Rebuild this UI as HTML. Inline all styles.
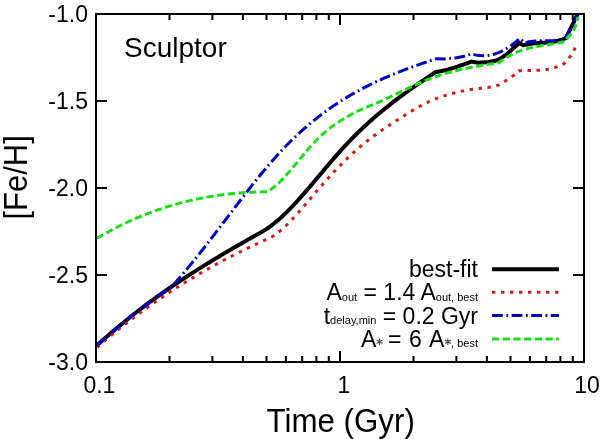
<!DOCTYPE html>
<html><head><meta charset="utf-8"><style>
html,body{margin:0;padding:0;background:#fff;}
body{width:600px;height:439px;overflow:hidden;position:relative;font-family:"Liberation Sans",sans-serif;}
svg{position:absolute;left:0;top:0;will-change:transform;}
text{font-family:"Liberation Sans",sans-serif;fill:#000;}
</style></head><body>
<svg width="600" height="439" viewBox="0 0 600 439">
<defs><clipPath id="c"><rect x="96" y="14" width="488" height="348"/></clipPath></defs>
<g clip-path="url(#c)" fill="none" stroke-linejoin="miter" stroke-miterlimit="6">
<path d="M97.00,345.40L98.99,343.60L100.98,341.81L102.96,340.04L104.95,338.28L106.94,336.54L108.93,334.81L110.92,333.09L112.90,331.39L114.89,329.70L116.88,328.03L118.87,326.37L120.86,324.72L122.84,323.08L124.83,321.46L126.82,319.85L128.81,318.26L130.80,316.67L132.78,315.10L134.77,313.54L136.76,311.99L138.75,310.46L140.73,308.93L142.72,307.42L144.71,305.92L146.70,304.43L148.69,302.95L150.67,301.48L152.66,300.02L154.65,298.58L156.64,297.14L158.63,295.71L160.61,294.30L162.60,292.89L164.59,291.50L166.58,290.11L168.57,288.73L170.55,287.36L172.54,286.00L174.53,284.65L176.52,283.31L178.51,281.98L180.49,280.66L182.48,279.34L184.47,278.03L186.46,276.74L188.45,275.44L190.43,274.16L192.42,272.88L194.41,271.62L196.40,270.35L198.39,269.10L200.37,267.85L202.36,266.61L204.35,265.38L206.34,264.15L208.33,262.93L210.31,261.72L212.30,260.51L214.29,259.31L216.28,258.11L218.27,256.92L220.25,255.73L222.24,254.55L224.23,253.38L226.22,252.20L228.20,251.04L230.19,249.88L232.18,248.72L234.17,247.57L236.16,246.42L238.14,245.28L240.13,244.14L242.12,243.00L244.11,241.87L246.10,240.74L248.08,239.61L250.07,238.49L252.06,237.36L254.05,236.25L256.04,235.13L258.02,234.02L260.01,232.91L262.00,231.80L264.00,230.62L265.99,229.36L267.99,228.02L269.98,226.60L271.98,225.11L273.97,223.55L275.97,221.92L277.96,220.23L279.96,218.47L281.95,216.66L283.95,214.79L285.94,212.86L287.94,210.89L289.94,208.87L291.93,206.80L293.93,204.70L295.92,202.55L297.92,200.37L299.91,198.16L301.91,195.92L303.90,193.65L305.90,191.35L307.89,189.04L309.89,186.71L311.89,184.36L313.88,182.00L315.88,179.64L317.87,177.26L319.87,174.89L321.86,172.51L323.86,170.14L325.85,167.77L327.85,165.41L329.84,163.06L331.84,160.72L333.83,158.40L335.83,156.11L337.83,153.83L339.82,151.58L341.82,149.36L343.81,147.18L345.81,145.02L347.80,142.90L349.80,140.81L351.79,138.76L353.79,136.73L355.78,134.74L357.78,132.77L359.77,130.83L361.77,128.93L363.77,127.05L365.76,125.19L367.76,123.36L369.75,121.56L371.75,119.79L373.74,118.03L375.74,116.30L377.73,114.60L379.73,112.91L381.72,111.25L383.72,109.61L385.71,107.99L387.71,106.39L389.71,104.81L391.70,103.24L393.70,101.70L395.69,100.17L397.69,98.65L399.68,97.16L401.68,95.67L403.67,94.21L405.67,92.75L407.66,91.31L409.66,89.88L411.66,88.46L413.65,87.05L415.65,85.66L417.64,84.27L419.64,82.89L421.63,81.52L423.63,80.15L425.62,78.80L427.62,77.45L429.61,76.10L431.61,74.76L433.60,73.43L435.60,72.10L437.59,71.78L439.59,71.41L441.58,71.01L443.58,70.56L445.57,70.09L447.57,69.58L449.56,69.04L451.56,68.48L453.55,67.88L455.54,67.26L457.54,66.62L459.53,65.95L461.53,65.26L463.52,64.56L465.52,63.84L467.51,63.11L469.51,62.36L471.50,61.60L477.80,62.80L489.20,62.00L495.00,60.70L496.87,60.13L498.74,59.34L500.61,58.35L502.48,57.20L504.35,55.90L506.22,54.48L508.08,52.95L509.95,51.35L511.82,49.70L513.69,48.01L515.56,46.32L517.43,44.64L519.30,43.00L522.90,45.20L526.90,44.60L528.86,44.18L530.81,43.84L532.76,43.56L534.72,43.34L536.67,43.15L538.63,43.00L540.59,42.87L542.54,42.75L544.50,42.63L546.45,42.49L548.40,42.33L550.36,42.13L552.31,41.89L554.27,41.59L556.23,41.23L558.18,40.78L560.13,40.25L562.09,39.61L564.04,38.87L566.00,38.00L572.40,24.80L575.50,18.40L578.30,13.00" stroke="#000" stroke-width="4"/>
<path d="M97.00,347.30L98.99,345.59L100.98,343.89L102.97,342.20L104.95,340.52L106.94,338.85L108.93,337.20L110.92,335.56L112.91,333.93L114.90,332.31L116.88,330.70L118.87,329.11L120.86,327.52L122.85,325.95L124.84,324.39L126.83,322.85L128.81,321.31L130.80,319.79L132.79,318.27L134.78,316.77L136.77,315.28L138.76,313.80L140.74,312.33L142.73,310.88L144.72,309.43L146.71,308.00L148.70,306.57L150.69,305.16L152.67,303.76L154.66,302.36L156.65,300.98L158.64,299.61L160.63,298.25L162.62,296.91L164.60,295.57L166.59,294.24L168.58,292.92L170.57,291.61L172.56,290.32L174.55,289.03L176.53,287.75L178.52,286.48L180.51,285.23L182.50,283.98L184.49,282.74L186.48,281.51L188.47,280.30L190.45,279.09L192.44,277.89L194.43,276.70L196.42,275.52L198.41,274.35L200.40,273.19L202.38,272.04L204.37,270.89L206.36,269.76L208.35,268.64L210.34,267.52L212.33,266.41L214.31,265.32L216.30,264.23L218.29,263.15L220.28,262.08L222.27,261.01L224.26,259.96L226.24,258.91L228.23,257.88L230.22,256.85L232.21,255.83L234.20,254.81L236.19,253.81L238.17,252.81L240.16,251.83L242.15,250.85L244.14,249.88L246.13,248.91L248.12,247.96L250.10,247.01L252.09,246.07L254.08,245.13L256.07,244.21L258.06,243.29L260.05,242.38L262.03,241.48L264.02,240.58L266.01,239.69L268.00,238.80L269.99,237.81L271.98,236.70L273.97,235.45L275.95,234.09L277.94,232.62L279.93,231.04L281.92,229.37L283.91,227.60L285.90,225.75L287.88,223.82L289.87,221.82L291.86,219.76L293.85,217.63L295.84,215.46L297.83,213.24L299.81,210.98L301.80,208.69L303.79,206.37L305.78,204.04L307.77,201.69L309.76,199.34L311.74,196.99L313.73,194.65L315.72,192.32L317.71,190.01L319.70,187.72L321.69,185.45L323.68,183.20L325.66,180.97L327.65,178.76L329.64,176.58L331.63,174.42L333.62,172.29L335.61,170.18L337.59,168.10L339.58,166.05L341.57,164.02L343.56,162.03L345.55,160.06L347.54,158.13L349.52,156.23L351.51,154.36L353.50,152.53L355.49,150.73L357.48,148.97L359.47,147.25L361.45,145.56L363.44,143.91L365.43,142.30L367.42,140.73L369.41,139.19L371.40,137.69L373.38,136.21L375.37,134.77L377.36,133.35L379.35,131.96L381.34,130.58L383.33,129.23L385.32,127.89L387.30,126.56L389.29,125.25L391.28,123.94L393.27,122.64L395.26,121.35L397.25,120.05L399.23,118.77L401.22,117.50L403.21,116.23L405.20,114.98L407.19,113.75L409.18,112.53L411.16,111.33L413.15,110.15L415.14,109.00L417.13,107.87L419.12,106.76L421.11,105.69L423.09,104.65L425.08,103.64L427.07,102.67L429.06,101.73L431.05,100.84L433.04,99.98L435.02,99.15L437.01,98.37L439.00,97.61L440.99,96.90L442.98,96.21L444.97,95.56L446.96,94.94L448.94,94.34L450.93,93.78L452.92,93.25L454.91,92.74L456.90,92.27L458.89,91.81L460.87,91.39L462.86,90.98L464.85,90.60L466.84,90.24L468.83,89.90L470.82,89.58L472.80,89.27L474.79,88.99L476.78,88.71L478.77,88.45L480.76,88.20L482.75,87.97L484.73,87.74L486.72,87.52L488.71,87.31L490.70,87.10L499.30,84.90L506.70,80.00L514.00,75.10L518.70,70.70L520.65,70.63L522.60,70.59L524.54,70.55L526.49,70.53L528.44,70.51L530.39,70.49L532.33,70.46L534.28,70.41L536.23,70.34L538.18,70.25L540.13,70.13L542.07,69.97L544.02,69.76L545.97,69.51L547.92,69.19L549.87,68.82L551.81,68.38L553.76,67.87L555.71,67.28L557.66,66.60L559.60,65.83L561.55,64.97L563.50,64.00L567.30,60.60L572.10,53.90L576.20,45.70L577.30,43.50" stroke="#d81818" stroke-width="3" stroke-dasharray="3.4 5.6"/>
<path d="M97.00,345.40L98.99,343.60L100.98,341.81L102.96,340.04L104.95,338.28L106.94,336.54L108.93,334.81L110.92,333.09L112.90,331.39L114.89,329.70L116.88,328.03L118.87,326.37L120.86,324.72L122.84,323.08L124.83,321.46L126.82,319.85L128.81,318.26L130.80,316.67L132.78,315.10L134.77,313.54L136.76,311.99L138.75,310.46L140.73,308.93L142.72,307.42L144.71,305.92L146.70,304.43L148.69,302.95L150.67,301.48L152.66,300.02L154.65,298.58L156.64,297.14L158.63,295.71L160.61,294.30L162.60,292.89L164.59,291.50L166.58,290.11L168.57,288.73L170.55,287.36L171.90,286.30L173.89,284.15L175.87,281.94L177.86,279.70L179.85,277.42L181.84,275.12L183.82,272.79L185.81,270.44L187.80,268.06L189.78,265.65L191.77,263.23L193.76,260.78L195.75,258.31L197.73,255.83L199.72,253.32L201.71,250.80L203.70,248.26L205.68,245.71L207.67,243.15L209.66,240.58L211.64,238.00L213.63,235.40L215.62,232.80L217.61,230.20L219.59,227.59L221.58,224.97L223.57,222.35L225.55,219.74L227.54,217.12L229.53,214.50L231.52,211.88L233.50,209.27L235.49,206.67L237.48,204.07L239.47,201.48L241.45,198.89L243.44,196.32L245.43,193.76L247.41,191.21L249.40,188.67L251.39,186.15L253.38,183.65L255.36,181.16L257.35,178.69L259.34,176.25L261.32,173.82L263.31,171.41L265.30,169.03L267.29,166.68L269.27,164.35L271.26,162.05L273.25,159.78L275.24,157.54L277.22,155.33L279.21,153.15L281.20,151.00L283.18,148.90L285.17,146.82L287.16,144.78L289.15,142.77L291.13,140.80L293.12,138.86L295.11,136.95L297.09,135.08L299.08,133.23L301.07,131.42L303.06,129.64L305.04,127.88L307.03,126.16L309.02,124.47L311.01,122.81L312.99,121.17L314.98,119.57L316.97,117.99L318.95,116.44L320.94,114.92L322.93,113.42L324.92,111.95L326.90,110.50L328.89,109.08L330.88,107.69L332.86,106.32L334.85,104.98L336.84,103.65L338.83,102.36L340.81,101.08L342.80,99.83L344.79,98.60L346.78,97.39L348.76,96.20L350.75,95.03L352.74,93.89L354.72,92.76L356.71,91.65L358.70,90.57L360.69,89.50L362.67,88.45L364.66,87.42L366.65,86.40L368.63,85.40L370.62,84.42L372.61,83.46L374.60,82.51L376.58,81.58L378.57,80.66L380.56,79.76L382.55,78.87L384.53,77.99L386.52,77.13L388.51,76.28L390.49,75.44L392.48,74.62L394.47,73.81L396.46,73.00L398.44,72.21L400.43,71.43L402.42,70.66L404.40,69.90L406.39,69.15L408.38,68.41L410.37,67.68L412.35,66.95L414.34,66.23L416.33,65.52L418.32,64.82L420.30,64.12L422.29,63.43L424.28,62.74L426.26,62.06L428.25,61.39L430.24,60.71L432.23,60.04L434.21,59.38L436.20,58.70L444.20,58.90L455.60,57.90L464.10,56.20L471.50,53.90L473.43,54.43L475.36,54.87L477.28,55.21L479.21,55.45L481.14,55.60L483.07,55.65L485.00,55.61L486.92,55.48L488.85,55.25L490.78,54.92L492.71,54.49L494.64,53.97L496.56,53.36L498.49,52.64L500.42,51.84L502.35,50.93L504.28,49.93L506.20,48.83L508.13,47.63L510.06,46.34L511.99,44.94L513.92,43.46L515.84,41.87L517.77,40.18L519.70,38.40L522.90,41.20L525.30,42.80L527.24,42.21L529.18,41.75L531.11,41.40L533.05,41.15L534.99,40.97L536.93,40.87L538.87,40.82L540.80,40.80L542.74,40.80L544.68,40.82L546.62,40.82L548.56,40.80L550.50,40.75L552.43,40.64L554.37,40.47L556.31,40.22L558.25,39.87L560.19,39.40L562.12,38.81L564.06,38.08L566.00,37.20L572.40,24.00L575.50,17.60L578.00,13.00" stroke="#0000c8" stroke-width="3" stroke-dasharray="10.8 3.5 1.8 3.5"/>
<path d="M97.00,238.30L99.00,237.13L101.00,235.96L103.00,234.82L105.00,233.69L107.00,232.58L109.00,231.48L111.00,230.40L113.00,229.34L115.00,228.30L117.00,227.28L119.00,226.27L121.00,225.27L123.00,224.30L125.00,223.34L127.00,222.40L129.00,221.47L131.00,220.56L133.00,219.67L135.00,218.79L137.00,217.93L139.00,217.08L141.00,216.25L143.00,215.44L145.00,214.64L147.00,213.85L149.00,213.09L151.00,212.33L153.00,211.60L155.00,210.88L157.00,210.17L159.00,209.48L161.00,208.80L163.00,208.14L165.00,207.49L167.00,206.86L169.00,206.24L171.00,205.64L173.00,205.05L175.00,204.47L177.00,203.91L179.00,203.36L181.00,202.83L183.00,202.31L185.00,201.81L187.00,201.32L189.00,200.84L191.00,200.37L193.00,199.92L195.00,199.48L197.00,199.06L199.00,198.65L201.00,198.25L203.00,197.86L205.00,197.49L207.00,197.13L209.00,196.79L211.00,196.45L213.00,196.13L215.00,195.82L217.00,195.52L219.00,195.24L221.00,194.96L223.00,194.70L225.00,194.45L227.00,194.22L229.00,193.99L231.00,193.78L233.00,193.57L235.00,193.38L237.00,193.20L239.00,193.03L241.00,192.88L243.00,192.73L245.00,192.60L247.00,192.47L249.00,192.36L251.00,192.26L253.00,192.16L255.00,192.08L257.00,192.01L259.00,191.95L261.00,191.90L263.00,191.86L265.00,191.83L267.00,191.80L269.00,190.61L271.00,189.34L273.00,187.90L275.00,186.30L277.00,184.57L279.00,182.70L281.00,180.73L283.00,178.65L285.00,176.49L287.00,174.26L289.00,171.98L291.00,169.65L293.00,167.28L295.00,164.88L297.00,162.47L299.00,160.05L301.00,157.63L303.00,155.23L305.00,152.86L307.00,150.51L309.00,148.21L311.00,145.96L313.00,143.77L315.00,141.63L317.00,139.57L319.00,137.58L321.00,135.67L323.00,133.85L325.00,132.11L327.00,130.46L329.00,128.88L331.00,127.36L333.00,125.91L335.00,124.51L337.00,123.15L339.00,121.84L341.00,120.55L343.00,119.30L345.00,118.08L347.00,116.89L349.00,115.73L351.00,114.60L353.00,113.52L355.00,112.47L357.00,111.45L359.00,110.48L361.00,109.55L363.00,108.66L365.00,107.80L367.00,106.99L369.00,106.19L371.00,105.40L373.00,104.60L375.00,103.77L377.00,102.93L379.00,102.06L381.00,101.17L383.00,100.27L385.00,99.35L387.00,98.41L389.00,97.46L391.00,96.51L393.00,95.54L395.00,94.57L397.00,93.60L399.00,92.63L401.00,91.66L403.00,90.69L405.00,89.73L407.00,88.77L409.00,87.82L411.00,86.89L413.00,85.97L415.00,85.06L417.00,84.17L419.00,83.29L421.00,82.43L423.00,81.58L425.00,80.76L427.00,79.95L429.00,79.16L431.00,78.40L433.00,77.65L435.00,76.93L437.00,76.23L439.00,75.56L441.00,74.91L443.00,74.28L445.00,73.67L447.00,73.09L449.00,72.52L451.00,71.98L453.00,71.45L455.00,70.94L457.00,70.45L459.00,69.97L461.00,69.51L463.00,69.07L465.00,68.64L467.00,68.22L469.00,67.82L471.00,67.42L473.00,67.04L475.00,66.67L477.00,66.31L479.00,65.96L481.00,65.62L483.00,65.29L485.00,64.96L487.00,64.64L489.00,64.32L491.00,64.01L493.00,63.70L495.00,63.40L497.00,63.10L499.00,62.80L501.00,61.26L503.00,59.81L505.00,58.47L507.00,57.21L509.00,56.05L511.00,54.96L513.00,53.96L515.00,53.03L517.00,52.18L519.00,51.39L521.00,50.66L523.00,49.99L525.00,49.37L527.00,48.80L529.00,48.28L531.00,47.80L533.00,47.35L535.00,46.94L537.00,46.55L539.00,46.18L541.00,45.83L543.00,45.50L545.00,45.18L547.00,44.86L549.00,44.54L551.00,44.22L553.00,43.89L555.00,43.55L557.00,43.19L559.00,42.81L561.00,42.41L563.00,41.97L565.00,41.50L566.89,38.44L568.77,36.23L570.66,34.27L572.54,31.96L574.43,28.71L576.31,23.92L578.20,17.00" stroke="#18e018" stroke-width="3" stroke-dasharray="7.2 3.5"/>
</g>
<path d="M96.0,362.0L96.0,351.0 M96.0,14.0L96.0,25.0 M169.5,362.0L169.5,356.0 M169.5,14.0L169.5,20.0 M212.4,362.0L212.4,356.0 M212.4,14.0L212.4,20.0 M242.9,362.0L242.9,356.0 M242.9,14.0L242.9,20.0 M266.5,362.0L266.5,356.0 M266.5,14.0L266.5,20.0 M285.9,362.0L285.9,356.0 M285.9,14.0L285.9,20.0 M302.2,362.0L302.2,356.0 M302.2,14.0L302.2,20.0 M316.4,362.0L316.4,356.0 M316.4,14.0L316.4,20.0 M328.8,362.0L328.8,356.0 M328.8,14.0L328.8,20.0 M340.0,362.0L340.0,351.0 M340.0,14.0L340.0,25.0 M413.5,362.0L413.5,356.0 M413.5,14.0L413.5,20.0 M456.4,362.0L456.4,356.0 M456.4,14.0L456.4,20.0 M486.9,362.0L486.9,356.0 M486.9,14.0L486.9,20.0 M510.5,362.0L510.5,356.0 M510.5,14.0L510.5,20.0 M529.9,362.0L529.9,356.0 M529.9,14.0L529.9,20.0 M546.2,362.0L546.2,356.0 M546.2,14.0L546.2,20.0 M560.4,362.0L560.4,356.0 M560.4,14.0L560.4,20.0 M572.8,362.0L572.8,356.0 M572.8,14.0L572.8,20.0 M584.0,362.0L584.0,351.0 M584.0,14.0L584.0,25.0 M96.0,101.0L107.0,101.0 M584.0,101.0L573.0,101.0 M96.0,188.0L107.0,188.0 M584.0,188.0L573.0,188.0 M96.0,275.0L107.0,275.0 M584.0,275.0L573.0,275.0" stroke="#000" stroke-width="2" fill="none"/>
<rect x="96" y="14" width="488" height="348" fill="none" stroke="#000" stroke-width="2"/>
<g font-size="23" text-anchor="end">
<text x="88" y="22">-1.0</text>
<text x="88" y="109">-1.5</text>
<text x="88" y="196">-2.0</text>
<text x="88" y="283">-2.5</text>
<text x="88" y="370">-3.0</text>
</g>
<g font-size="23" text-anchor="middle">
<text x="99.4" y="393">0.1</text>
<text x="344" y="393">1</text>
<text x="587" y="393">10</text>
</g>
<text transform="translate(340.7,432) scale(1,1.044)" font-size="31.3" text-anchor="middle">Time (Gyr)</text>
<text transform="translate(26.6,177.4) rotate(-90) scale(1,1.044)" font-size="31" text-anchor="middle">[Fe/H]</text>
<text x="124" y="57" font-size="28">Sculptor</text>
<g font-size="23" text-anchor="end">
<text x="478" y="277">best-fit</text>
<text x="478" y="300">A<tspan font-size="11" dy="0.6">out</tspan><tspan dy="-0.6"> = 1.4 A</tspan><tspan font-size="11" dy="0.6">out, best</tspan></text>
<text x="478" y="323.6">t<tspan font-size="11" dy="0.8">delay,min</tspan><tspan dy="-0.8"> = 0.2 Gyr</tspan></text>
</g>
<g font-size="23">
<text x="361" y="347">A</text>
<text x="388" y="347">=</text>
<text x="409" y="347">6</text>
<text x="429" y="347">A</text>
<text x="478" y="347" font-size="11" text-anchor="end">, best</text>
</g>
<path d="M379.50,338.80L379.50,344.60M376.99,340.25L382.01,343.15M376.99,343.15L382.01,340.25" stroke="#444" stroke-width="1.1" stroke-linecap="round" fill="none"/>
<path d="M447.90,338.80L447.90,344.60M445.39,340.25L450.41,343.15M445.39,343.15L450.41,340.25" stroke="#444" stroke-width="1.1" stroke-linecap="round" fill="none"/>
<g fill="none">
<path d="M492,269.2H559" stroke="#000" stroke-width="4"/>
<path d="M492,292.3H559" stroke="#d81818" stroke-width="3" stroke-dasharray="3.4 5.6"/>
<path d="M492,315.6H559" stroke="#0000c8" stroke-width="3" stroke-dasharray="10.8 3.5 1.8 3.5"/>
<path d="M492,339H559" stroke="#18e018" stroke-width="3" stroke-dasharray="7.2 3.5"/>
</g>
</svg>
</body></html>
